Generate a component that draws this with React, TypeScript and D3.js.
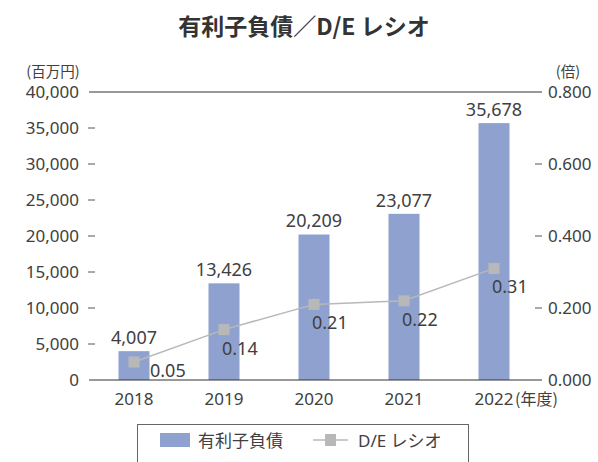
import React from "react";
import * as d3 from "d3";

const years = ["2018", "2019", "2020", "2021", "2022"];
const debt = [4007, 13426, 20209, 23077, 35678];
const deRatio = [0.05, 0.14, 0.21, 0.22, 0.31];
const leftTicks = [0, 5000, 10000, 15000, 20000, 25000, 30000, 35000, 40000];
const rightTicks = [0, 0.2, 0.4, 0.6, 0.8];

const FONT = "'Noto Sans', 'Noto Sans CJK JP', sans-serif";
const JFONT = "'Noto Sans CJK JP', 'Noto Sans', sans-serif";
const TEXT = "#404040";
const BAR = "#8fa2cf";
const LINE = "#b8b8b8";

export default function App() {
  const W = 598, H = 462;
  const left = 89, right = 539, top = 92, bottom = 380;
  const x = d3.scaleBand().domain(years).range([left, right]).paddingInner(0).paddingOuter(0);
  const yL = d3.scaleLinear().domain([0, 40000]).range([bottom, top]);
  const yR = d3.scaleLinear().domain([0, 0.8]).range([bottom, top]);
  const barW = 31;
  const cx = (y: string) => (x(y) as number) + x.bandwidth() / 2;
  const fmt = d3.format(",");
  const line = d3.line<number>().x((_, i) => cx(years[i])).y((d) => yR(d));

  return (
    <svg width={W} height={H} style={{ position: "absolute", left: 0, top: 0 }} fontFamily={FONT}>
      <rect width={W} height={H} fill="#fff" />
      <text x={304} y={35} textAnchor="middle" fontSize={23} fontWeight="bold" fill="#333" fontFamily={JFONT}>
        有利子負債／D/E レシオ
      </text>
      <text x={53} y={77} textAnchor="middle" fontSize={14.5} fill={TEXT} fontFamily={JFONT}>(百万円)</text>
      <text x={568} y={77} textAnchor="middle" fontSize={14.5} fill={TEXT} fontFamily={JFONT}>(倍)</text>

      {/* bars */}
      {debt.map((v, i) => (
        <rect key={i} x={cx(years[i]) - barW / 2} y={yL(v)} width={barW} height={bottom - yL(v)} fill={BAR} />
      ))}
      {/* top and bottom lines */}
      <line x1={left} x2={right + 3} y1={top} y2={top} stroke="#333" strokeWidth={1} />
      <line x1={left} x2={right + 3} y1={bottom} y2={bottom} stroke="#333" strokeWidth={1} />

      {/* left axis */}
      {leftTicks.map((t) => (
        <g key={t}>
          <text x={79} y={yL(t) + 6} textAnchor="end" fontSize={17} fill={TEXT}>{fmt(t)}</text>
          {t !== 0 && t !== 40000 && (
            <line x1={88} x2={95} y1={yL(t)} y2={yL(t)} stroke="#555" strokeWidth={1} />
          )}
        </g>
      ))}
      {/* right axis */}
      {rightTicks.map((t) => (
        <g key={t}>
          <text x={548} y={yR(t) + 6} textAnchor="start" fontSize={17} fill={TEXT}>{t.toFixed(3)}</text>
          {t !== 0 && t !== 0.8 && (
            <line x1={535} x2={542} y1={yR(t)} y2={yR(t)} stroke="#555" strokeWidth={1} />
          )}
        </g>
      ))}
      {/* x labels */}
      {years.map((y) => (
        <text key={y} x={cx(y)} y={405} textAnchor="middle" fontSize={17} fill={TEXT}>{y}</text>
      ))}
      <text x={cx("2022") + 21} y={405} textAnchor="start" fontSize={16} fill={TEXT} fontFamily={JFONT}>(年度)</text>

      {/* bar labels */}
      {debt.map((v, i) => (
        <text key={i} x={cx(years[i])} y={yL(v) - 7} textAnchor="middle" fontSize={18} fill={TEXT}>{fmt(v)}</text>
      ))}

      {/* line */}
      <path d={line(deRatio) as string} fill="none" stroke={LINE} strokeWidth={1.5} />
      {deRatio.map((v, i) => (
        <rect key={i} x={cx(years[i]) - 5.5} y={yR(v) - 5.5} width={11} height={11} fill={LINE} />
      ))}
      {deRatio.map((v, i) => (
        i === 0 ? (
          <text key={i} x={cx(years[i]) + 16} y={bottom - 3} textAnchor="start" fontSize={18} fill={TEXT}>{v.toFixed(2)}</text>
        ) : (
          <text key={i} x={cx(years[i]) - 2} y={yR(v) + 25} textAnchor="start" fontSize={18} fill={TEXT}>{v.toFixed(2)}</text>
        )
      ))}

      {/* legend */}
      <rect x={137.5} y={424.5} width={331} height={50} fill="#fff" stroke="#666" strokeWidth={1} />
      <rect x={160} y={433} width={30} height={14} fill={BAR} />
      <text x={198} y={447} fontSize={17} fill={TEXT} fontFamily={JFONT}>有利子負債</text>
      <line x1={313} x2={348} y1={440} y2={440} stroke={LINE} strokeWidth={1.5} />
      <rect x={325} y={434} width={11} height={12} fill={LINE} />
      <text x={358} y={447} fontSize={17} fill={TEXT}>D/E <tspan fontFamily={JFONT} fontSize={17}>レシオ</tspan></text>
    </svg>
  );
}
